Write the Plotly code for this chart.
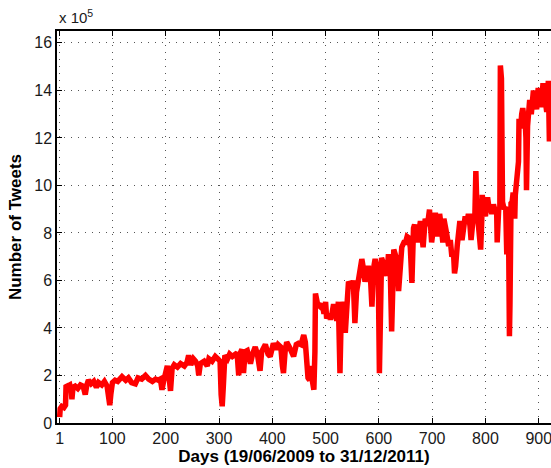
import plotly.graph_objects as go

# Daily tweet counts (in units of 1e5), key points
days = [1, 2, 5, 9, 12, 13, 16, 20, 23, 24, 26, 30, 35, 40, 45, 49, 52, 55, 60, 65, 70, 74, 80, 85, 90, 93, 95, 97,
        100, 105, 110, 118, 125, 130, 136, 143, 148, 155, 162, 168, 175, 181, 186, 190, 193, 196,
        200, 203, 206, 209, 212, 216, 222, 228, 235, 240, 243, 247, 252, 256, 260, 262, 265, 272, 278, 281, 287, 293, 298,
        302, 304, 306, 308, 311, 316, 320, 325, 330, 334, 336, 337, 339, 343, 346, 349, 353, 356, 359, 363, 368, 372, 375,
        377, 380, 387, 392, 396, 402, 407, 411, 416, 419, 421, 424, 427, 432, 436, 440, 445, 449, 454, 459, 462, 464, 467,
        470, 473, 475, 478, 480, 481, 485, 490, 494, 497, 500, 502, 506, 509, 512, 515, 518, 521, 524, 527, 529, 531, 534,
        537, 540, 543, 547, 550, 552, 555, 558, 561, 565, 568, 571, 574, 577, 580, 584, 587, 590, 593, 596, 599, 601, 603,
        605, 609, 612, 615, 618, 621, 624, 626, 628, 632, 635, 637, 640, 643, 647, 650, 653, 656, 659, 662, 665, 667, 672,
        675, 678, 683, 687, 691, 695, 699, 702, 706, 710, 714, 717, 720, 722, 724, 727, 731, 734, 737, 740, 742, 744, 747,
        750, 752, 756, 759, 762, 765, 768, 771, 773, 776, 778, 780, 782, 784, 786, 789, 791, 793, 794, 797, 800, 804, 807,
        809, 812, 815, 818, 821, 822, 825, 827, 828, 830, 832, 835, 838, 840, 843, 845, 846, 848, 850, 852, 855, 856, 858,
        860, 862, 863, 866, 868, 870, 872, 874, 876, 877, 879, 880, 883, 886, 888, 890, 893, 896, 899, 902, 905, 908, 912,
        915, 918, 920, 922, 924, 926]
tweets_e5 = [0.25, 0.6, 0.7, 0.65, 0.75, 1.6, 1.55, 1.6, 1.3, 1.0, 1.5, 1.55, 1.45, 1.6, 1.55, 1.2, 1.6, 1.8, 1.65, 1.75, 1.5, 1.7, 1.6, 1.75, 1.55, 1.0, 0.75, 1.2,
             1.7, 1.8, 1.75, 1.95, 1.8, 1.9, 1.7, 1.65, 1.9, 1.85, 2.0, 1.85, 1.75, 1.85, 1.8, 1.85, 1.4, 1.75,
             2.1, 2.4, 2.0, 1.35, 2.3, 2.45, 2.35, 2.5, 2.4, 2.55, 2.85, 2.45, 2.7, 2.6, 2.4, 2.0, 2.5, 2.6, 2.4, 2.7, 2.6, 2.8, 2.7,
             2.6, 1.2, 0.7, 1.5, 2.85, 2.7, 2.9, 2.8, 2.9, 2.95, 2.3, 2.0, 2.9, 3.1, 2.1, 3.0, 3.05, 2.6, 2.5, 2.9, 3.2, 2.9, 2.3,
             2.2, 3.0, 3.3, 2.9, 2.8, 3.35, 3.1, 3.3, 3.2, 2.4, 2.1, 3.0, 3.4, 3.2, 3.0, 2.8, 3.3, 3.35, 3.3, 3.7, 3.4, 2.3, 1.9,
             1.8, 2.4, 1.8, 1.4, 3.0, 5.45, 5.0, 4.9, 5.0, 4.6, 5.1, 4.4, 4.6, 4.35, 4.6, 5.0, 4.7, 4.3, 5.1, 2.1, 4.2, 5.1, 4.8,
             3.8, 4.9, 5.95, 5.8, 5.7, 6.0, 4.2, 5.5, 5.9, 6.4, 6.9, 6.5, 5.95, 6.3, 6.6, 6.2, 4.9, 6.5, 6.9, 6.6, 6.0, 2.1, 5.0,
             6.95, 6.7, 6.5, 6.2, 7.1, 6.8, 3.85, 6.0, 7.3, 7.0, 6.6, 5.55, 6.2, 7.4, 7.6, 7.6, 7.85, 7.8, 7.4, 5.9, 8.2, 8.35, 7.6,
             8.1, 8.5, 7.4, 8.6, 8.3, 8.98, 7.6, 8.4, 8.85, 7.85, 8.8, 8.3, 7.6, 8.6, 8.2, 8.0, 7.45, 7.7, 7.0, 7.2, 6.3, 6.6, 7.45,
             8.0, 8.5, 7.7, 8.2, 8.7, 8.4, 8.8, 8.3, 7.7, 8.4, 8.8, 8.6, 10.6, 9.0, 8.6, 8.0, 7.3, 8.5, 9.6, 9.0, 8.7, 9.5, 9.0,
             9.1, 8.8, 9.2, 8.9, 9.0, 7.6, 9.1, 9.0, 15.05, 14.5, 9.3, 9.0, 9.1, 7.1, 9.1, 3.65, 5.0, 9.25, 9.3, 9.7, 8.6, 9.6, 9.95,
             10.2, 11.0, 12.8, 12.4, 13.0, 13.25, 12.9, 13.0, 12.0, 9.8, 12.5, 13.2, 13.6, 13.0, 13.5, 14.0, 13.6, 13.2, 14.1, 13.8, 13.3, 14.3, 13.7,
             13.1, 14.4, 11.85, 13.5, 13.8, 13.5]

x_ticks = [1, 100, 200, 300, 400, 500, 600, 700, 800, 900]
y_ticks = [0, 2, 4, 6, 8, 10, 12, 14, 16]

fig = go.Figure()
fig.add_trace(go.Scatter(x=days, y=tweets_e5, mode="lines",
                         line=dict(color="#ff0000", width=5.5), showlegend=False))

family = "Liberation Sans, Arial, Helvetica, sans-serif"
tickfont = dict(family=family, size=16, color="#1a1a1a")
titlefont = dict(family=family, size=17, color="black")
axis_common = dict(showline=True, linecolor="black", linewidth=1.5, ticks="inside", ticklen=5,
                   tickcolor="black", showgrid=True, gridcolor="#555555", griddash="1px,6px", gridwidth=1,
                   zeroline=False, tickfont=tickfont, ticklabeloverflow="allow")

fig.update_layout(
    width=551, height=468,
    margin=dict(l=57, r=0, t=31, b=45),
    paper_bgcolor="white", plot_bgcolor="white",
    font=tickfont,
    xaxis=dict(range=[-4, 923], tickvals=x_ticks, ticktext=[str(t) for t in x_ticks], mirror="ticks",
               title=dict(text="<b>Days (19/06/2009 to 31/12/2011)</b>", font=titlefont, standoff=2),
               **axis_common),
    yaxis=dict(range=[0, 16.5], tickvals=y_ticks, ticktext=[str(t) for t in y_ticks],
               title=dict(text="<b>Number of Tweets</b>", font=titlefont, standoff=8),
               **axis_common),
    annotations=[dict(text="x 10<sup>5</sup>", xref="paper", yref="paper", x=0, y=1.0,
                      xanchor="left", yanchor="bottom", showarrow=False, yshift=3,
                      font=dict(family=family, size=15, color="#1a1a1a"))],
)

fig.write_html("out.html")
